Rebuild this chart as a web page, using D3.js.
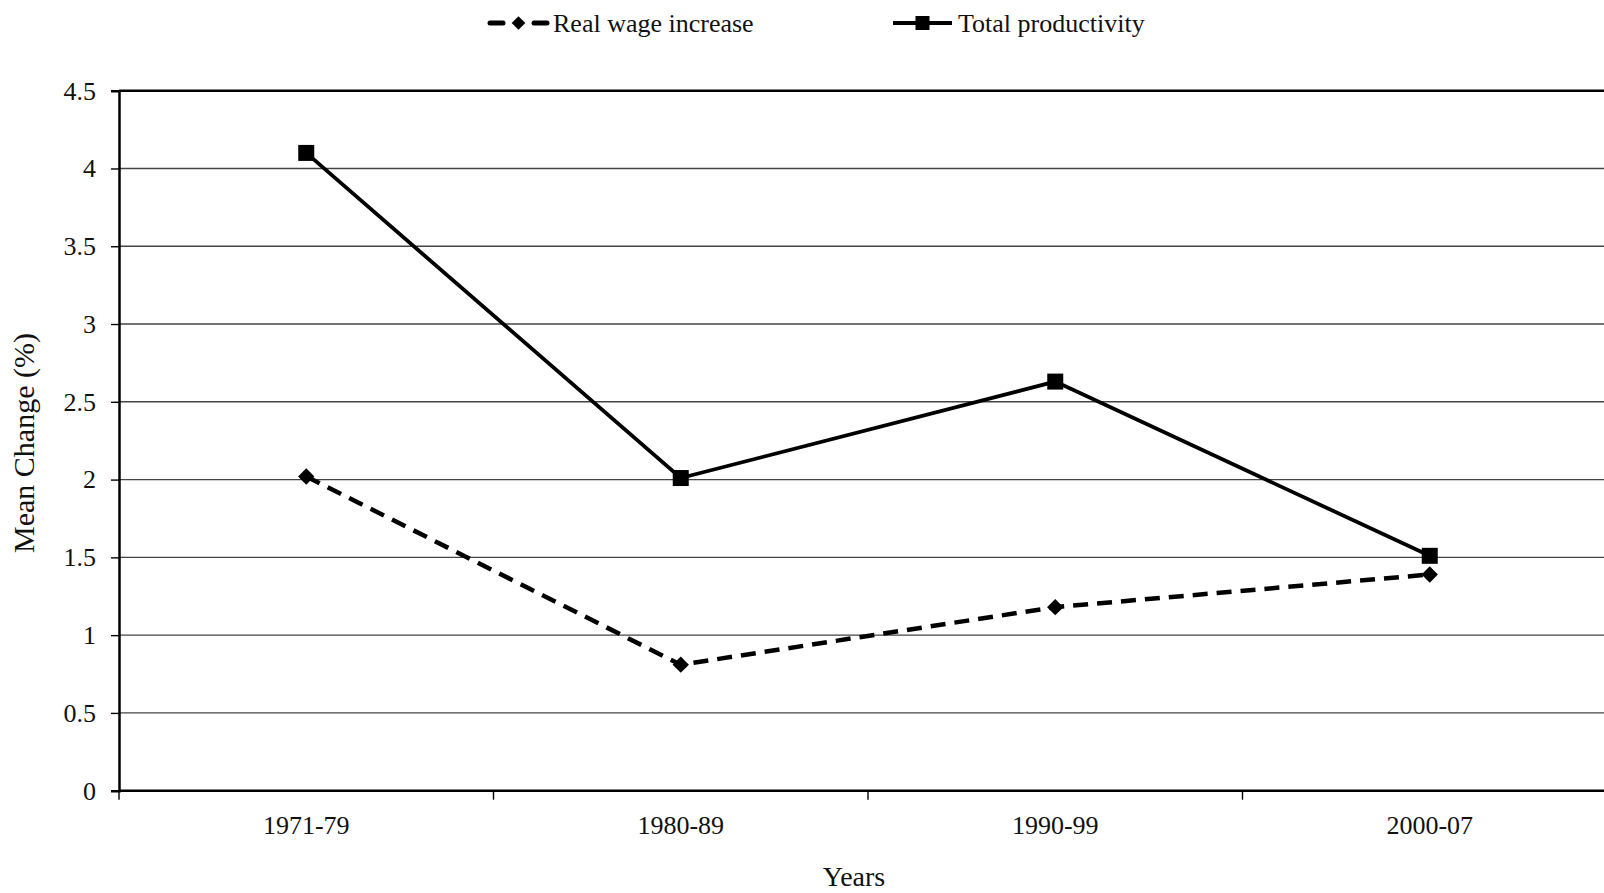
<!DOCTYPE html>
<html lang="en">
<head>
<meta charset="utf-8">
<title>Real wage vs productivity</title>
<script src="https://d3js.org/d3.v7.min.js"></script>
<style>
  body { margin: 0; background: #fff; overflow: hidden; }
  text { font-family: "Liberation Serif", "Times New Roman", serif; fill: #111; }
</style>
</head>
<body>
<script>
  var w = 1604;
  var h = 893;

  var periods = ["1971-79", "1980-89", "1990-99", "2000-07"];
  var realWage = [2.02, 0.81, 1.18, 1.39];
  var productivity = [4.10, 2.01, 2.63, 1.51];
  var yTicks = [0, 0.5, 1, 1.5, 2, 2.5, 3, 3.5, 4, 4.5];

  // plot area runs past the right edge of the picture, like the original crop
  var pLeft = 119, pRight = 1617, pTop = 90.7, pBottom = 790.7;

  var svg = d3.select("body").append("svg")
              .attr("width", w)
              .attr("height", h);

  var x = d3.scaleBand().domain(periods).range([pLeft, pRight]);
  var y = d3.scaleLinear().domain([0, 4.5]).range([pBottom, pTop]);

  // gridlines
  svg.append("g")
     .selectAll("line")
     .data(yTicks.filter(function(d){ return d > 0; }))
     .enter().append("line")
     .attr("x1", pLeft).attr("x2", pRight)
     .attr("y1", function(d){ return y(d); })
     .attr("y2", function(d){ return y(d); })
     .attr("stroke", function(d){ return d === 4.5 ? "#000" : "#444"; })
     .attr("stroke-width", function(d){ return d === 4.5 ? 2.5 : 1.4; });

  // y axis
  var yAxis = svg.append("g")
     .attr("transform", "translate(" + pLeft + ",0)")
     .call(d3.axisLeft(y).tickValues(yTicks).tickSize(8).tickPadding(15)
             .tickFormat(function(d){ return String(d); }));
  yAxis.select(".domain").attr("stroke", "#000").attr("stroke-width", 2.5);
  yAxis.selectAll(".tick line").attr("stroke", "#000").attr("stroke-width", 1.4);
  yAxis.selectAll("text").attr("font-size", 26).attr("font-family", "Liberation Serif").attr("fill", "#111");

  // x axis: ticks between the bands
  svg.append("line")
     .attr("x1", pLeft).attr("x2", pRight)
     .attr("y1", pBottom).attr("y2", pBottom)
     .attr("stroke", "#000").attr("stroke-width", 2.5);

  var bounds = d3.range(periods.length + 1).map(function(i){ return pLeft + i * x.step(); });
  svg.append("g").selectAll("line")
     .data(bounds)
     .enter().append("line")
     .attr("x1", function(d){ return d; }).attr("x2", function(d){ return d; })
     .attr("y1", pBottom).attr("y2", pBottom + 9)
     .attr("stroke", "#000").attr("stroke-width", 1.4);

  svg.append("g").selectAll("text")
     .data(periods)
     .enter().append("text")
     .attr("x", function(d){ return x(d) + x.bandwidth() / 2; })
     .attr("y", 834)
     .attr("text-anchor", "middle")
     .attr("font-size", 26)
     .text(function(d){ return d; });

  // axis titles
  svg.append("text")
     .attr("x", 854).attr("y", 886)
     .attr("text-anchor", "middle")
     .attr("font-size", 28)
     .text("Years");

  svg.append("text")
     .attr("transform", "translate(34,443) rotate(-90)")
     .attr("text-anchor", "middle")
     .attr("font-size", 30)
     .text("Mean Change (%)");

  var cx = function(d, i){ return x(periods[i]) + x.bandwidth() / 2; };

  var line = d3.line()
     .x(function(d, i){ return cx(d, i); })
     .y(function(d){ return y(d); });

  // real wage: dashed with diamonds
  svg.append("path")
     .datum(realWage)
     .attr("d", line)
     .attr("fill", "none")
     .attr("stroke", "#000")
     .attr("stroke-width", 4.5)
     .attr("stroke-dasharray", "15,9");

  svg.append("g").selectAll("path")
     .data(realWage)
     .enter().append("path")
     .attr("d", d3.symbol().type(d3.symbolDiamond2).size(170))
     .attr("transform", function(d, i){ return "translate(" + cx(d, i) + "," + y(d) + ")"; })
     .attr("fill", "#000");

  // productivity: solid with squares
  svg.append("path")
     .datum(productivity)
     .attr("d", line)
     .attr("fill", "none")
     .attr("stroke", "#000")
     .attr("stroke-width", 3.8);

  svg.append("g").selectAll("rect")
     .data(productivity)
     .enter().append("rect")
     .attr("x", function(d, i){ return cx(d, i) - 8; })
     .attr("y", function(d){ return y(d) - 8; })
     .attr("width", 16).attr("height", 16)
     .attr("fill", "#000");

  // legend
  var lg = svg.append("g");
  [[490, 503], [534, 547]].forEach(function(s){
    lg.append("line")
      .attr("x1", s[0]).attr("x2", s[1]).attr("y1", 23).attr("y2", 23)
      .attr("stroke", "#000").attr("stroke-width", 5).attr("stroke-linecap", "round");
  });
  lg.append("path")
    .attr("d", d3.symbol().type(d3.symbolDiamond2).size(120))
    .attr("transform", "translate(518.5,23)")
    .attr("fill", "#000");
  lg.append("text").attr("x", 553).attr("y", 32).attr("font-size", 26).text("Real wage increase");

  lg.append("line")
    .attr("x1", 893).attr("x2", 952).attr("y1", 23).attr("y2", 23)
    .attr("stroke", "#000").attr("stroke-width", 3.8);
  lg.append("rect")
    .attr("x", 915.5).attr("y", 16).attr("width", 14).attr("height", 14)
    .attr("fill", "#000");
  lg.append("text").attr("x", 958).attr("y", 32).attr("font-size", 26).text("Total productivity");
</script>
</body>
</html>
